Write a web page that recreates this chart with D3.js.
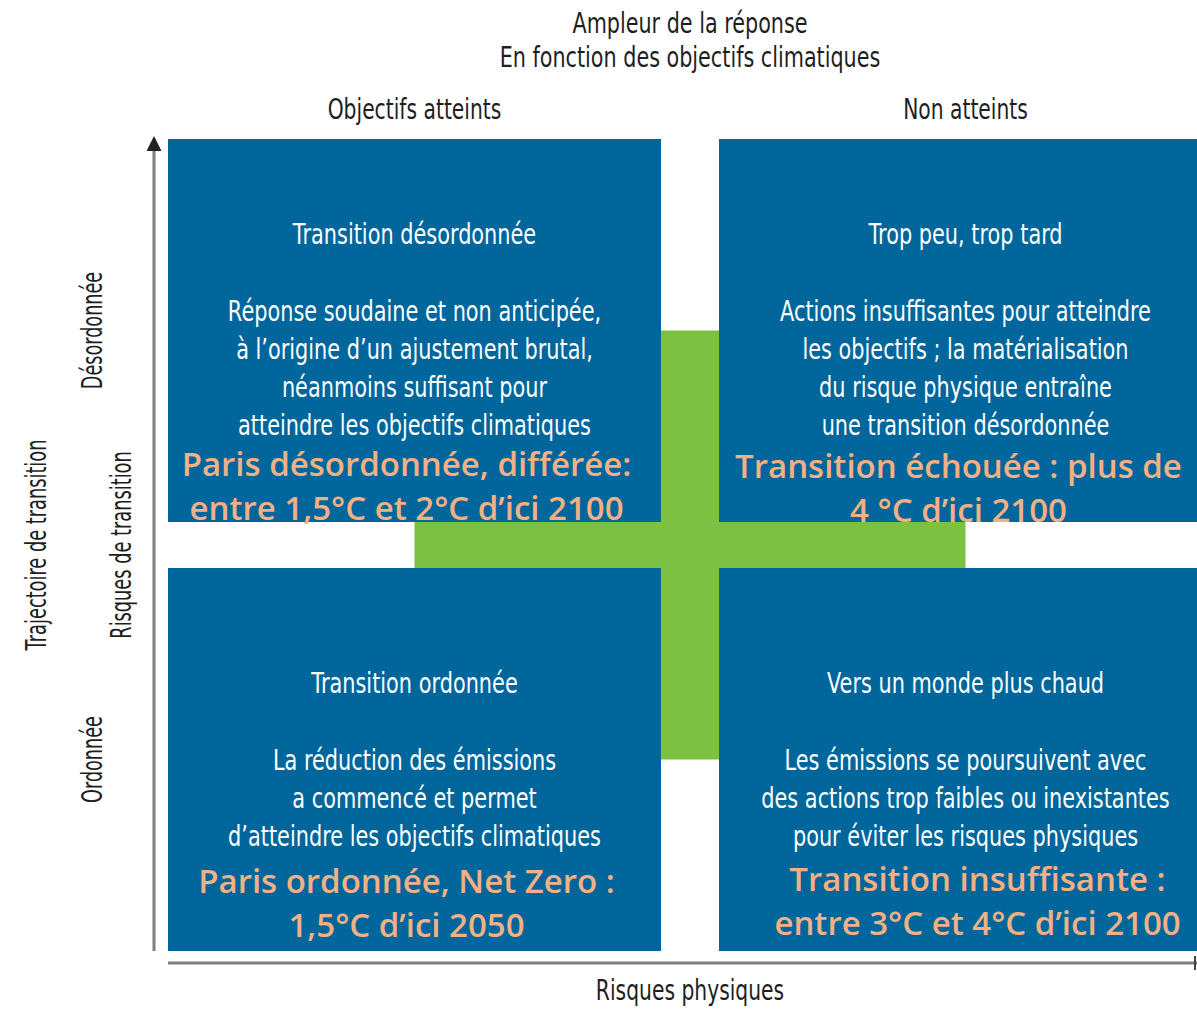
<!DOCTYPE html>
<html>
<head>
<meta charset="utf-8">
<script src="https://cdn.jsdelivr.net/npm/d3@7"></script>
<style>
  body { margin: 0; background: #fff; }
</style>
</head>
<body>
<div id="chart"></div>
<script>
const columns = ["Objectifs atteints", "Non atteints"];
const rows = ["Désordonnée", "Ordonnée"];

const titleLines = ["Ampleur de la réponse", "En fonction des objectifs climatiques"];
const yAxisTitle = "Trajectoire de transition";
const yAxisSubtitle = "Risques de transition";
const xAxisTitle = "Risques physiques";

const quadrantTitles = [
  "Transition désordonnée",
  "Trop peu, trop tard",
  "Transition ordonnée",
  "Vers un monde plus chaud"
];
const quadrantBodies = [
  ["Réponse soudaine et non anticipée,", "à l’origine d’un ajustement brutal,", "néanmoins suffisant pour", "atteindre les objectifs climatiques"],
  ["Actions insuffisantes pour atteindre", "les objectifs ; la matérialisation", "du risque physique entraîne", "une transition désordonnée"],
  ["La réduction des émissions", "a commencé et permet", "d’atteindre les objectifs climatiques"],
  ["Les émissions se poursuivent avec", "des actions trop faibles ou inexistantes", "pour éviter les risques physiques"]
];
const scenarioLabels = [
  ["Paris désordonnée, différée:", "entre 1,5°C et 2°C d’ici 2100"],
  ["Transition échouée : plus de", "4 °C d’ici 2100"],
  ["Paris ordonnée, Net Zero :", "1,5°C d’ici 2050"],
  ["Transition insuffisante :", "entre 3°C et 4°C d’ici 2100"]
];

const width = 1197, height = 1009;
const blue = "#00669b", green = "#7dc142", orange = "#f2b084", grey = "#808080", ink = "#1e1e1e";
const narrow = "'DejaVu Sans', sans-serif";
const bold = "'Open Sans', Lato, sans-serif";

const svg = d3.select("#chart").append("svg")
  .attr("width", width).attr("height", height);

const x = d3.scaleBand().domain(columns).range([168, 1212]).paddingInner(58 / 551);
const y = d3.scaleBand().domain(rows).range([139, 951]).paddingInner(46 / 429);
const cx = c => x(c) + x.bandwidth() / 2;
const cy = r => y(r) + y.bandwidth() / 2;

// condensed-looking text: squeeze horizontally around the anchor point
function label(tx, ty, t, opts = {}) {
  const rot = opts.rotate ? ` rotate(${opts.rotate})` : "";
  return svg.append("text")
    .attr("transform", `translate(${tx},${ty})${rot} scale(${opts.sx || 0.75},1)`)
    .attr("text-anchor", "middle")
    .attr("fill", opts.fill || ink)
    .attr("font-family", opts.family || narrow)
    .attr("font-weight", opts.weight || 400)
    .attr("font-size", opts.size || 28)
    .text(t);
}

// green cross between the quadrants
svg.append("rect")
  .attr("x", x(columns[0]) + x.bandwidth()).attr("width", x(columns[1]) - x(columns[0]) - x.bandwidth())
  .attr("y", cy(rows[0])).attr("height", cy(rows[1]) - cy(rows[0]))
  .attr("fill", green);
svg.append("rect")
  .attr("x", cx(columns[0])).attr("width", cx(columns[1]) - cx(columns[0]))
  .attr("y", y(rows[0]) + y.bandwidth()).attr("height", y(rows[1]) - y(rows[0]) - y.bandwidth())
  .attr("fill", green);

const cells = [];
rows.forEach((r, ri) => columns.forEach((c, ci) => cells.push({ r, c, ri, i: ri * 2 + ci })));

svg.selectAll("rect.quad").data(cells).join("rect")
  .attr("class", "quad")
  .attr("x", d => x(d.c)).attr("y", d => y(d.r))
  .attr("width", x.bandwidth()).attr("height", y.bandwidth())
  .attr("fill", blue);

const scenarioNudge = [[-8, 337], [-7, 339], [-8, 325], [12, 323]];

cells.forEach(d => {
  const mx = cx(d.c), top = y(d.r) + (d.ri === 1 ? 20 : 0);
  label(mx, top + 105, quadrantTitles[d.i], { fill: "#fff", sx: 0.745 });
  quadrantBodies[d.i].forEach((line, k) => {
    label(mx, top + 182 + k * 38, line, { fill: "#fff", sx: 0.745 });
  });
  const [dx, dy] = scenarioNudge[d.i];
  scenarioLabels[d.i].forEach((line, k) => {
    label(mx + dx, y(d.r) + dy + k * 44, line,
      { fill: orange, family: bold, weight: 600, size: 33, sx: 1 });
  });
});

// axes
svg.append("defs").append("marker")
  .attr("id", "arrow").attr("viewBox", "0 0 10 10")
  .attr("refX", 2).attr("refY", 5).attr("markerWidth", 5).attr("markerHeight", 5)
  .attr("orient", "auto")
  .append("path").attr("d", "M0,0L10,5L0,10z").attr("fill", "#222");

svg.append("line")
  .attr("x1", 154).attr("x2", 154).attr("y1", 951).attr("y2", 148)
  .attr("stroke", grey).attr("stroke-width", 3)
  .attr("marker-end", "url(#arrow)");
svg.append("line")
  .attr("x1", 168).attr("x2", 1197).attr("y1", 963).attr("y2", 963)
  .attr("stroke", grey).attr("stroke-width", 3);
svg.append("line")
  .attr("x1", 1195).attr("x2", 1195).attr("y1", 956).attr("y2", 970)
  .attr("stroke", "#444").attr("stroke-width", 2);

// header text
titleLines.forEach((t, k) => label(690, 33 + k * 34, t, { size: 29, sx: 0.715 }));
columns.forEach(c => label(cx(c), 119, c, { size: 29, sx: 0.7 }));
label(690, 1000, xAxisTitle, { size: 29, sx: 0.7 });

// vertical labels
label(46, 545, yAxisTitle, { rotate: -90, sx: 0.635 });
label(131, 545, yAxisSubtitle, { rotate: -90, sx: 0.635 });
rows.forEach(r => label(102, cy(r), r, { rotate: -90, sx: 0.63 }));
</script>
</body>
</html>
